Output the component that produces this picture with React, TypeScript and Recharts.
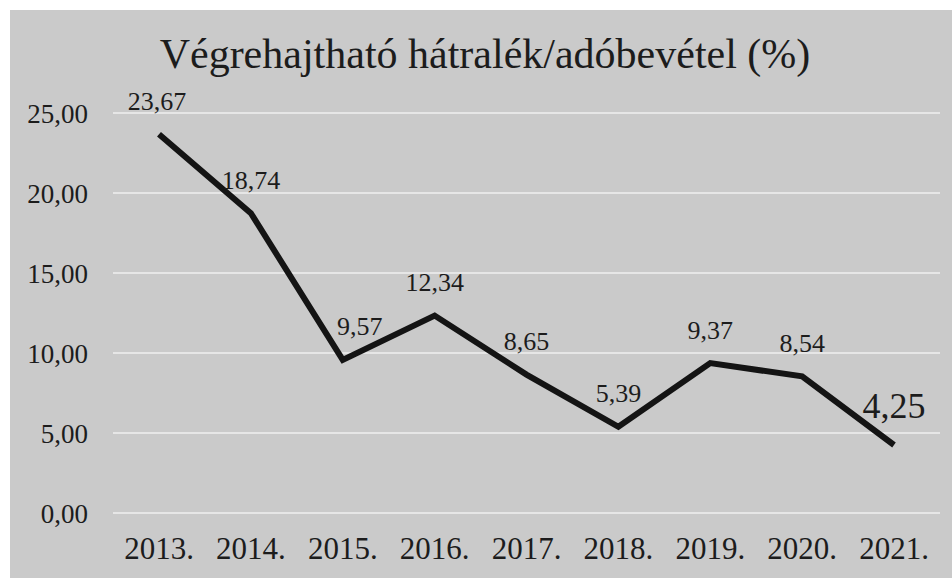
import { LineChart, Line, XAxis, YAxis, CartesianGrid, LabelList } from 'recharts';

const years = ['2013.', '2014.', '2015.', '2016.', '2017.', '2018.', '2019.', '2020.', '2021.'];
const ratios = [23.67, 18.74, 9.57, 12.34, 8.65, 5.39, 9.37, 8.54, 4.25];
const yTicks = [0, 5, 10, 15, 20, 25];

const chartData = years.map((year, i) => ({ year, value: ratios[i] }));

const FONT = '"Liberation Serif", "DejaVu Serif", serif';
const TEXT = '#1c1c1c';

const fmt = (v: number) => v.toFixed(2).replace('.', ',');

const renderLabel = (props: any) => {
  const { x = 0, y = 0, value, index } = props;
  const last = index === ratios.length - 1;
  // 2015 label sits a bit to the right of its point
  const dx = index === 2 ? 17 : index === 0 ? -2 : 0;
  return (
    <text
      x={x + dx}
      y={y - (last ? 39 : 33)}
      textAnchor="middle"
      dominantBaseline="central"
      fill={TEXT}
      style={{ fontFamily: FONT, fontSize: last ? 36 : 26 }}
    >
      {fmt(Number(value))}
    </text>
  );
};

const App = () => {
  return (
    <div style={{ position: 'absolute', left: 0, top: 0, width: 952, height: 578, background: '#fff' }}>
      <div
        style={{
          position: 'absolute',
          left: 10,
          top: 10,
          width: 942,
          height: 568,
          background: '#cacaca',
        }}
      />
      <div
        style={{
          position: 'absolute',
          left: 14,
          top: 28,
          width: 942,
          textAlign: 'center',
          fontFamily: FONT,
          fontSize: 42,
          lineHeight: '52px',
          color: TEXT,
        }}
      >
        Végrehajtható hátralék/adóbevétel (%)
      </div>
      <div style={{ position: 'absolute', left: 0, top: 0 }}>
        <LineChart
          width={952}
          height={578}
          data={chartData}
          margin={{ top: 113, right: 12, bottom: 0, left: 0 }}
        >
          <CartesianGrid vertical={false} stroke="#e6e6e6" strokeWidth={2} />
          <XAxis
            dataKey="year"
            axisLine={false}
            tickLine={false}
            height={65}
            padding={{ left: 46, right: 46 }}
            interval={0}
            tickMargin={18}
            tick={{ fill: TEXT, fontSize: 31, fontFamily: FONT }}
          />
          <YAxis
            domain={[0, 25]}
            ticks={yTicks}
            axisLine={false}
            tickLine={false}
            width={113}
            tickMargin={19}
            tickFormatter={fmt}
            tick={{ fill: TEXT, fontSize: 27, fontFamily: FONT }}
          />
          <Line
            type="linear"
            dataKey="value"
            stroke="#141414"
            strokeWidth={6}
            dot={false}
            activeDot={false}
            isAnimationActive={false}
          >
            <LabelList dataKey="value" content={renderLabel} />
          </Line>
        </LineChart>
      </div>
    </div>
  );
};

export default App;
